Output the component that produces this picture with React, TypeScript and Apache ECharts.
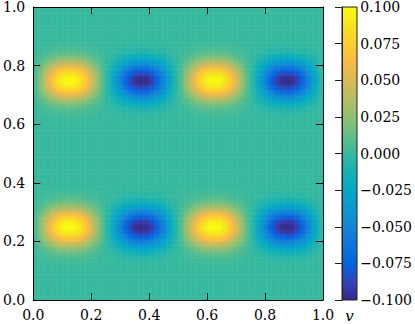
import React, { useEffect, useRef } from "react";
import * as echarts from "echarts";

// Normalised profile across one blob in x (x from 0 to 0.25, step 1/120)
const xProfile = [
  0, 0.07, 0.15, 0.24, 0.33, 0.42, 0.52, 0.61, 0.7, 0.78, 0.85, 0.91, 0.955, 0.985, 0.997, 1.0,
  0.997, 0.985, 0.955, 0.91, 0.85, 0.78, 0.7, 0.61, 0.52, 0.42, 0.33, 0.24, 0.15, 0.07, 0,
];
// Sign of each blob column (x centres 0.125, 0.375, 0.625, 0.875)
const columnSigns = [1, -1, 1, -1];
// Normalised profile across one row in y (y from 0 to 0.5, step 1/120), centred at 0.25
const yProfile = [
  0, 0, 0, 0, 0, 0, 0, 0, 0, 0, 0, 0,
  0.004, 0.008, 0.013, 0.02, 0.035, 0.05, 0.08, 0.12, 0.18, 0.25, 0.34, 0.44, 0.55, 0.67, 0.77, 0.86, 0.93, 0.98,
  1,
  0.98, 0.93, 0.86, 0.77, 0.67, 0.55, 0.44, 0.34, 0.25, 0.18, 0.12, 0.08, 0.05, 0.035, 0.02, 0.013, 0.008, 0.004,
  0, 0, 0, 0, 0, 0, 0, 0, 0, 0, 0, 0,
];
const amplitude = 0.1;
const step = 1 / 120;

const colorbarTicks = [-0.1, -0.075, -0.05, -0.025, 0, 0.025, 0.05, 0.075, 0.1];

const parula = [
  "#352a87", "#3243ba", "#0363e1", "#0d75dc", "#1485d4", "#0998d1", "#06a7c6", "#15b1b4",
  "#38b99e", "#65be86", "#92bf73", "#b7bd64", "#d9ba56", "#f8bb44", "#fcce2e", "#f5e41d", "#f9fb0e",
];

const FONT = "DejaVu Serif";

function buildField() {
  const data: number[][] = [];
  const nxBlob = xProfile.length - 1;
  const nyRow = yProfile.length - 1;
  const nx = nxBlob * columnSigns.length;
  const ny = nyRow * 2;
  for (let i = 0; i <= nx; i++) {
    const col = Math.min(columnSigns.length - 1, Math.floor(i / nxBlob));
    const xv = xProfile[i - col * nxBlob] * columnSigns[col];
    for (let j = 0; j <= ny; j++) {
      const yv = yProfile[j % nyRow];
      data.push([i / nx, j / ny, amplitude * xv * yv]);
    }
  }
  return data;
}

export default function App() {
  const ref = useRef<HTMLDivElement>(null);
  useEffect(() => {
    if (!ref.current) return;
    const chart = echarts.init(ref.current, null, { renderer: "svg" });
    const data = buildField();
    const half = step / 2;
    const fmtMinus = (v: number, d: number) => {
      const s = Math.abs(v).toFixed(d);
      return v < -1e-9 ? "\u2212" + s : s;
    };
    const labelStyle = { fontFamily: FONT, fontSize: 14, color: "#000" };
    const mainAxisCommon = {
      type: "value",
      min: 0,
      max: 1,
      interval: 0.2,
      z: 10,
      splitLine: { show: false },
      axisLine: { show: true, onZero: false, lineStyle: { color: "#000", width: 1 } },
      axisTick: { show: true, inside: true, length: 7, lineStyle: { color: "#000", width: 1 } },
    };
    const n = parula.length;
    const gradStops = parula
      .slice()
      .reverse()
      .map((c, k) => ({ offset: k / (n - 1), color: c }));
    chart.setOption({
      animation: false,
      backgroundColor: "#fff",
      grid: [
        { left: 30, top: 7, width: 293, height: 293 },
        { left: 342, top: 7, width: 15, height: 293 },
      ],
      xAxis: [
        {
          ...mainAxisCommon,
          gridIndex: 0,
          position: "bottom",
          axisLabel: { ...labelStyle, margin: 8, formatter: (v: number) => v.toFixed(1) },
        },
        { ...mainAxisCommon, gridIndex: 0, position: "top", axisLabel: { show: false } },
        { type: "value", gridIndex: 1, min: 0, max: 1, show: false },
      ],
      yAxis: [
        {
          ...mainAxisCommon,
          gridIndex: 0,
          position: "left",
          axisLabel: { ...labelStyle, margin: 8, formatter: (v: number) => v.toFixed(1) },
        },
        { ...mainAxisCommon, gridIndex: 0, position: "right", axisLabel: { show: false } },
        {
          type: "value",
          gridIndex: 1,
          position: "right",
          min: colorbarTicks[0],
          max: colorbarTicks[colorbarTicks.length - 1],
          interval: 0.025,
          z: 10,
          splitLine: { show: false },
          axisLine: { show: true, lineStyle: { color: "#222", width: 1 } },
          axisTick: { show: true, inside: true, length: 7, lineStyle: { color: "#222", width: 1 } },
          axisLabel: { ...labelStyle, margin: 8, formatter: (v: number) => fmtMinus(v, 3) },
        },
      ],
      visualMap: {
        show: false,
        type: "continuous",
        min: -0.1,
        max: 0.1,
        dimension: 2,
        seriesIndex: 0,
        inRange: { color: parula },
      },
      graphic: [
        {
          type: "rect",
          z: -1,
          shape: { x: 342, y: 7, width: 15, height: 293 },
          style: {
            fill: new echarts.graphic.LinearGradient(0, 0, 0, 1, gradStops),
            stroke: "#222",
            lineWidth: 1,
          },
        },
        {
          type: "text",
          x: 349.5,
          y: 316,
          style: {
            text: "v",
            fontFamily: FONT,
            fontStyle: "italic",
            fontSize: 15,
            fill: "#000",
            align: "center",
            verticalAlign: "middle",
          },
        },
      ],
      series: [
        {
          type: "custom",
          xAxisIndex: 0,
          yAxisIndex: 0,
          clip: false,
          data,
          renderItem: (params: any, api: any) => {
            const x = api.value(0);
            const y = api.value(1);
            const x0 = Math.max(0, x - half);
            const x1 = Math.min(1, x + half);
            const y0 = Math.max(0, y - half);
            const y1 = Math.min(1, y + half);
            const p0 = api.coord([x0, y1]);
            const p1 = api.coord([x1, y0]);
            const padW = x1 < 1 ? 0.5 : 0;
            const padH = y0 > 0 ? 0.5 : 0;
            return {
              type: "rect",
              shape: { x: p0[0], y: p0[1], width: p1[0] - p0[0] + padW, height: p1[1] - p0[1] + padH },
              style: { fill: api.visual("color") },
            };
          },
        },
      ],
    });
    return () => chart.dispose();
  }, []);
  return (
    <div
      ref={ref}
      style={{ position: "fixed", left: 0, top: 0, width: 415, height: 324, background: "#fff" }}
    />
  );
}
